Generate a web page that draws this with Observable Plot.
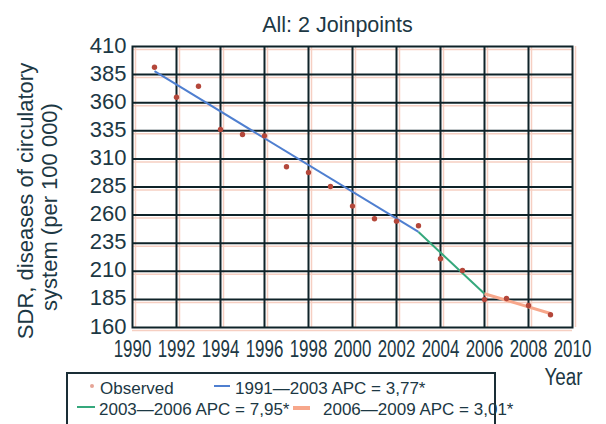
<!DOCTYPE html>
<html>
<head>
<meta charset="utf-8">
<script src="https://cdn.jsdelivr.net/npm/d3@7"></script>
<script src="https://cdn.jsdelivr.net/npm/@observablehq/plot@0.6"></script>
<style>
  body { margin: 0; background: #fff; }
  #wrap { position: relative; width: 606px; height: 424px; overflow: hidden;
          font-family: "Liberation Sans", Arial, sans-serif; color: #1c3844; }
  #legend { position: absolute; left: 66px; top: 372px; width: 430px; height: 70px;
            border: 2px solid #1a2e36; box-sizing: border-box; }
  .lt { position: absolute; font-size: 17px; line-height: 17px; white-space: nowrap; }
  .ld { position: absolute; }
</style>
</head>
<body>
<div id="wrap"></div>
<script>
// ---- data ----
const years = [1991, 1992, 1993, 1994, 1995, 1996, 1997, 1998, 1999, 2000,
               2001, 2002, 2003, 2004, 2005, 2006, 2007, 2008, 2009];
const sdr = [391.6, 364.9, 374.7, 336.2, 331.7, 330.5, 303.0, 297.9, 285.4, 268.0,
             256.7, 254.6, 250.5, 221.1, 210.7, 184.9, 185.8, 179.6, 171.3];
const segStart = [1991, 2003, 2006];
const segEnd = [2003, 2006, 2009];
const segStartVal = [388.0, 245.0, 190.0];
const segEndVal = [245.0, 190.0, 172.5];
const segLabels = ["1991\u20142003 APC = 3,77*", "2003\u20142006 APC = 7,95*", "2006\u20142009 APC = 3,01*"];
const segColors = ["#4f7fd0", "#35a87c", "#f7a78b"];
const segWidths = [2, 2, 3];
const xTicks = [1990, 1992, 1994, 1996, 1998, 2000, 2002, 2004, 2006, 2008, 2010];
const yTicks = [160, 185, 210, 235, 260, 285, 310, 335, 360, 385, 410];
const title = "All: 2 Joinpoints";
const yLabel1 = "SDR, diseases of circulatory";
const yLabel2 = "system (per 100 000)";
const xLabel = "Year";
const observedLabel = "Observed";

const observed = years.map((y, i) => ({year: y, value: sdr[i]}));
const segments = segStart.map((s, i) => ({x1: s, x2: segEnd[i], y1: segStartVal[i], y2: segEndVal[i],
  color: segColors[i], w: segWidths[i]}));

const ink = "#1c3844";
const gridInk = "#0f2329";

const chart = Plot.plot({
  width: 606,
  height: 424,
  marginLeft: 132,
  marginRight: 34,
  marginTop: 46,
  marginBottom: 97,
  style: {fontFamily: '"Liberation Sans", Arial, sans-serif', background: "#fff", color: ink},
  x: {domain: [1990, 2010], axis: null},
  y: {domain: [160, 410], axis: null},
  marks: [
    // faint offset halo of the grid (print misregistration)
    Plot.ruleX(xTicks, {dx: 3, stroke: "#f6cfc2", strokeWidth: 1.5}),
    Plot.ruleY(yTicks, {dy: 3, stroke: "#f6cfc2", strokeWidth: 1.5}),
    Plot.ruleX(xTicks.slice(1, -1), {stroke: gridInk, strokeWidth: 2}),
    Plot.ruleY(yTicks.slice(1, -1), {stroke: gridInk, strokeWidth: 2}),
    Plot.frame({stroke: gridInk, strokeWidth: 2}),
    Plot.link(segments, {x1: "x1", y1: "y1", x2: "x2", y2: "y2", stroke: "color", strokeWidth: "w"}),
    Plot.dot(observed, {x: "year", y: "value", r: 2.7, fill: "#b4473a", stroke: "none"}),
    Plot.axisX({ticks: xTicks, tickFormat: d => String(d), tickSize: 0, tickPadding: 13, fontSize: 23.5, fill: ink, label: null}),
    Plot.axisY({ticks: yTicks, tickFormat: d => String(d), tickSize: 0, tickPadding: 6, fontSize: 22, fill: ink, label: null, dy: -1}),
    Plot.text([title], {frameAnchor: "top", dx: -15, dy: -21, fontSize: 21.5, fill: ink, lineAnchor: "middle"}),
    Plot.text([xLabel], {frameAnchor: "bottom-right", dx: -9, dy: 50, fontSize: 23, fill: ink,
      textAnchor: "middle", lineAnchor: "middle"}),
    Plot.text([yLabel1], {frameAnchor: "left", rotate: -90, dx: -107, dy: 14, fontSize: 22, fill: ink,
      textAnchor: "middle", lineAnchor: "middle"}),
    Plot.text([yLabel2], {frameAnchor: "left", rotate: -90, dx: -83, dy: 20, fontSize: 22, fill: ink,
      textAnchor: "middle", lineAnchor: "middle"})
  ]
});

const wrap = document.getElementById("wrap");
wrap.appendChild(chart);

// condense the x tick labels and the "Year" label like the original (narrow) typeface
function condense(el, k) {
  const t = el.getAttribute("transform");
  if (t) {
    el.setAttribute("transform", t + ` scale(${k},1)`);
  } else {
    const x = +el.getAttribute("x") || 0, y = +el.getAttribute("y") || 0;
    el.removeAttribute("x"); el.removeAttribute("y");
    el.setAttribute("transform", `translate(${x},${y}) scale(${k},1)`);
  }
}
d3.select(chart).selectAll('g[aria-label="x-axis tick label"] text').each(function() { condense(this, 0.72); });
d3.select(chart).selectAll('g[aria-label="text"] text').each(function() {
  if (this.textContent === xLabel) condense(this, 0.82);
});

// ---- legend ----
const legend = document.createElement("div");
legend.id = "legend";
wrap.appendChild(legend);
function add(html) { legend.insertAdjacentHTML("beforeend", html); }
// positions relative to legend box (left 66, top 372)
add(`<div class="ld" style="left:${90-66-2}px;top:${385-372-3}px;width:4px;height:4px;border-radius:2px;background:#e6a496"></div>`);
add(`<div class="lt" style="left:${98-66}px;top:${378-372}px">${observedLabel}</div>`);
const legPos = [
  {dx1: 212, dx2: 228, dy: 384, tx: 233, ty: 378},
  {dx1: 75, dx2: 93, dy: 405, tx: 97, ty: 399},
  {dx1: 291, dx2: 308, dy: 405, tx: 321, ty: 399}
];
legPos.forEach((p, i) => {
  add(`<div class="ld" style="left:${p.dx1-66}px;top:${p.dy-372-segWidths[i]/2}px;width:${p.dx2-p.dx1}px;height:${segWidths[i]+ (i===2?1:0)}px;background:${segColors[i]}"></div>`);
  add(`<div class="lt" style="left:${p.tx-66}px;top:${p.ty-372}px">${segLabels[i]}</div>`);
});
</script>
</body>
</html>
